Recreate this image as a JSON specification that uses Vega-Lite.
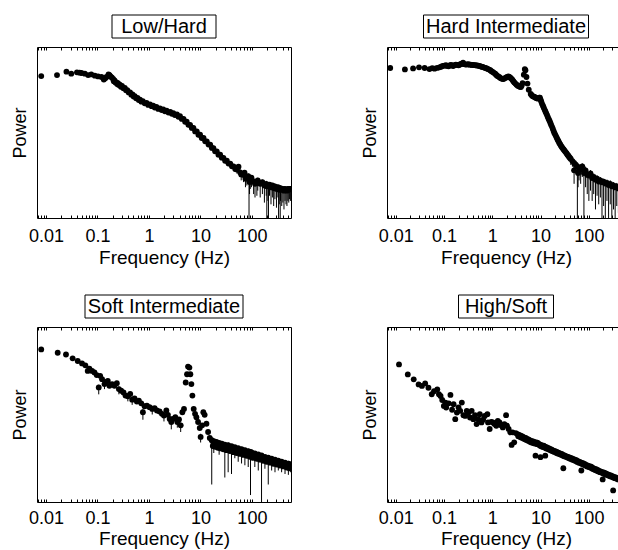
{
"$schema": "https://vega.github.io/schema/vega-lite/v6.json",
"padding": {"left": 10, "top": 14, "right": 0, "bottom": 0},
"config": {
  "font": "Liberation Sans",
  "view": {"stroke": "black", "strokeWidth": 1},
  "axis": {"labelColor": "black", "titleColor": "black", "tickColor": "black", "domain": false, "grid": false, "titleFontWeight": "normal"},
  "circle": {"size": 34, "color": "black", "opacity": 1}
},
"datasets": {
"p1": [
{"f":0.0081,"p":0.141},{"f":0.0164,"p":0.151},{"f":0.025,"p":0.19},{"f":0.031,"p":0.166},{"f":0.04,"p":0.182},{"f":0.045,"p":0.178},{"f":0.049,"p":0.174},{"f":0.057,"p":0.166},{"f":0.066,"p":0.151},{"f":0.076,"p":0.158},{"f":0.089,"p":0.145},{"f":0.103,"p":0.138},{"f":0.12,"p":0.133},{"f":0.133,"p":0.112},{"f":0.142,"p":0.122},{"f":0.15,"p":0.133},{"f":0.164,"p":0.158},{"f":0.172,"p":0.15},{"f":0.179,"p":0.138},{"f":0.19,"p":0.129},{"f":0.202,"p":0.116},{"f":0.215,"p":0.106},{"f":0.234,"p":0.0923},{"f":0.25,"p":0.0871},{"f":0.272,"p":0.0794},{"f":0.3,"p":0.0724},{"f":0.34,"p":0.0631},{"f":0.38,"p":0.055},{"f":0.43,"p":0.0473},{"f":0.48,"p":0.0412},{"f":0.53,"p":0.0363},{"f":0.6,"p":0.0324},{"f":0.67,"p":0.0288},{"f":0.76,"p":0.026},{"f":0.9,"p":0.0232},{"f":1.05,"p":0.0211},{"f":1.21,"p":0.0193},{"f":1.4,"p":0.0176},{"f":1.64,"p":0.016},{"f":1.9,"p":0.015},{"f":2.21,"p":0.0138},{"f":2.6,"p":0.0127},{"f":2.98,"p":0.0117},{"f":3.5,"p":0.0106},{"f":4.02,"p":0.00944},{"f":4.7,"p":0.00794},{"f":5.42,"p":0.00653},{"f":6.3,"p":0.00531},{"f":7.31,"p":0.00427},{"f":8.5,"p":0.00343},{"f":9.86,"p":0.00272},{"f":11.5,"p":0.00219},{"f":13.3,"p":0.00174},{"f":15.5,"p":0.0014},{"f":17.9,"p":0.00111},{"f":20.8,"p":8.91e-4},{"f":24.2,"p":7.08e-4},{"f":28,"p":5.75e-4},{"f":32.6,"p":4.73e-4},{"f":38,"p":3.89e-4},{"f":44,"p":3.24e-4},
{"f":0.208,"p":0.1},{"f":0.224,"p":0.092},{"f":0.242,"p":0.083},{"f":0.26,"p":0.077},{"f":0.286,"p":0.069},{"f":0.32,"p":0.062},{"f":0.36,"p":0.054},{"f":0.405,"p":0.047},{"f":0.455,"p":0.0405},{"f":0.505,"p":0.0355},{"f":0.565,"p":0.0315},{"f":0.635,"p":0.0282},{"f":0.715,"p":0.0252},{"f":0.83,"p":0.0225},{"f":0.97,"p":0.0202},{"f":1.13,"p":0.0186},{"f":1.3,"p":0.017},{"f":1.52,"p":0.0155},{"f":1.77,"p":0.0143},{"f":2.05,"p":0.0132},{"f":2.4,"p":0.0121},{"f":2.8,"p":0.0111},{"f":3.2,"p":0.0102},{"f":3.75,"p":0.0091},{"f":4.35,"p":0.0079},{"f":5.05,"p":0.0065},{"f":5.85,"p":0.0053},{"f":6.8,"p":0.0043},{"f":7.9,"p":0.0034},{"f":9.15,"p":0.0027},{"f":10.6,"p":0.00218},{"f":12.4,"p":0.00174},{"f":14.4,"p":0.0014},{"f":16.7,"p":0.00112},{"f":19.3,"p":8.9e-4},{"f":22.4,"p":7.1e-4},{"f":26,"p":5.8e-4},{"f":30.2,"p":4.7e-4},{"f":35.2,"p":3.9e-4},{"f":41,"p":3.25e-4},{"f":47.5,"p":2.7e-4},
{"f":51,"p":2.63e-4,"lo":2.0e-4,"hi":3.16e-4},{"f":55,"p":3.16e-4,"lo":2.24e-4,"hi":3.76e-4},{"f":59,"p":2.16e-4,"lo":1.58e-4,"hi":2.66e-4},{"f":62,"p":1.88e-4,"lo":1.26e-4,"hi":2.37e-4},{"f":69,"p":1.82e-4,"lo":1.12e-4,"hi":2.24e-4},{"f":72,"p":2.11e-4,"lo":1.41e-4,"hi":2.51e-4},{"f":75,"p":1.41e-4,"lo":7.94e-5,"hi":1.78e-4},{"f":80,"p":1.55e-4,"lo":8.91e-5,"hi":1.88e-4},{"f":85,"p":1.68e-4,"lo":1e-4,"hi":2.0e-4},{"f":88,"p":1.33e-4,"lo":1e-7,"hi":1.68e-4},{"f":90,"p":1.12e-4,"lo":5.01e-5,"hi":1.41e-4},{"f":93,"p":1.33e-4,"lo":7.08e-5,"hi":1.68e-4},{"f":98,"p":1.5e-4,"lo":7.94e-5,"hi":1.78e-4},{"f":108,"p":1.17e-4,"lo":5.01e-5,"hi":1.5e-4},{"f":115,"p":1e-4,"lo":3.98e-5,"hi":1.26e-4},{"f":125,"p":1.06e-4,"lo":4.47e-5,"hi":1.33e-4},{"f":130,"p":1.26e-4,"lo":6.31e-5,"hi":1.5e-4},{"f":145,"p":1e-4,"lo":3.98e-5,"hi":1.26e-4},{"f":160,"p":1.12e-4,"lo":5.01e-5,"hi":1.33e-4},{"f":175,"p":8.91e-5,"lo":2.82e-5,"hi":1.12e-4},{"f":190,"p":1e-4,"lo":4.47e-5,"hi":1.22e-4},{"f":195,"p":8.41e-5,"lo":1e-7,"hi":1.06e-4},{"f":205,"p":8.41e-5,"lo":3.16e-5,"hi":1.06e-4},{"f":210,"p":8.91e-5,"lo":1e-7,"hi":1.12e-4},{"f":220,"p":9.44e-5,"lo":4.47e-5,"hi":1.12e-4},{"f":235,"p":7.94e-5,"lo":2.51e-5,"hi":1e-4},{"f":250,"p":8.91e-5,"lo":3.98e-5,"hi":1.06e-4},{"f":265,"p":7.5e-5,"lo":2.24e-5,"hi":9.44e-5},{"f":280,"p":8.41e-5,"lo":3.55e-5,"hi":1e-4},{"f":300,"p":7.08e-5,"lo":2.0e-5,"hi":8.91e-5},{"f":320,"p":7.94e-5,"lo":3.98e-5,"hi":9.44e-5},{"f":330,"p":7.08e-5,"lo":1e-7,"hi":8.91e-5},{"f":340,"p":6.68e-5,"lo":2.51e-5,"hi":8.41e-5},{"f":355,"p":7.08e-5,"lo":1e-7,"hi":8.91e-5},{"f":360,"p":7.5e-5,"lo":3.16e-5,"hi":8.91e-5},{"f":380,"p":6.68e-5,"lo":2.24e-5,"hi":8.41e-5},{"f":400,"p":7.08e-5,"lo":2.82e-5,"hi":8.41e-5},{"f":420,"p":6.31e-5,"lo":1.78e-5,"hi":7.94e-5},{"f":440,"p":7.08e-5,"lo":3.16e-5,"hi":8.41e-5},{"f":460,"p":6.68e-5,"lo":2.51e-5,"hi":7.94e-5},{"f":480,"p":6.31e-5,"lo":2.24e-5,"hi":7.94e-5},{"f":500,"p":7.08e-5,"lo":3.16e-5,"hi":8.41e-5},{"f":520,"p":6.68e-5,"lo":2.82e-5,"hi":7.94e-5},{"f":540,"p":7.08e-5,"lo":3.55e-5,"hi":8.41e-5},{"f":560,"p":7.08e-5,"lo":3.16e-5,"hi":8.41e-5}
],
"p2": [
{"f":0.0077,"p":0.243},{"f":0.0155,"p":0.221},{"f":0.0229,"p":0.237},{"f":0.0304,"p":0.254},{"f":0.0397,"p":0.243},{"f":0.05,"p":0.226},{"f":0.0635,"p":0.232},{"f":0.0804,"p":0.254},{"f":0.094,"p":0.279},{"f":0.11,"p":0.292},{"f":0.124,"p":0.272},{"f":0.139,"p":0.299},{"f":0.155,"p":0.279},{"f":0.176,"p":0.306},{"f":0.2,"p":0.292},{"f":0.222,"p":0.32},{"f":0.248,"p":0.347},{"f":0.281,"p":0.306},{"f":0.318,"p":0.313},{"f":0.356,"p":0.306},{"f":0.397,"p":0.299},{"f":0.45,"p":0.292},{"f":0.509,"p":0.285},{"f":0.569,"p":0.272},{"f":0.635,"p":0.26},{"f":0.72,"p":0.243},{"f":0.817,"p":0.226},{"f":0.91,"p":0.209},{"f":1.02,"p":0.186},{"f":1.15,"p":0.166},{"f":1.26,"p":0.145},{"f":1.39,"p":0.133},{"f":1.55,"p":0.119},{"f":1.7,"p":0.116},{"f":1.9,"p":0.127},{"f":2.15,"p":0.138},{"f":2.37,"p":0.127},{"f":2.6,"p":0.111},{"f":2.86,"p":0.0923},{"f":3.18,"p":0.0794},{"f":3.56,"p":0.0708},{"f":3.91,"p":0.0676},{"f":4.23,"p":0.0881},{"f":4.5,"p":0.155},{"f":4.71,"p":0.226},{"f":4.86,"p":0.209},{"f":5.1,"p":0.133},{"f":5.35,"p":0.0851},{"f":5.69,"p":0.0562},{"f":6.25,"p":0.0422},{"f":6.87,"p":0.0363},{"f":7.55,"p":0.0347},{"f":8.28,"p":0.0316},{"f":9.1,"p":0.0316},{"f":9.69,"p":0.0331},{"f":10.3,"p":0.0257},{"f":11.2,"p":0.0193},{"f":12.1,"p":0.0148},{"f":13.1,"p":0.0115},{"f":14.1,"p":0.00902},{"f":15.3,"p":0.007},{"f":16.5,"p":0.00537},{"f":17.9,"p":0.00407},{"f":19.3,"p":0.00305},{"f":20.9,"p":0.00245},{"f":22.6,"p":0.00195},{"f":24.4,"p":0.00157},{"f":26.4,"p":0.0013},{"f":28.6,"p":0.00111},{"f":30.9,"p":9.55e-4},{"f":33.4,"p":8.32e-4},{"f":36.1,"p":7.08e-4},{"f":39.1,"p":6.1e-4},
{"f":0.057,"p":0.24},{"f":0.072,"p":0.245},{"f":0.087,"p":0.265},{"f":0.102,"p":0.285},{"f":0.117,"p":0.28},{"f":0.131,"p":0.29},{"f":0.147,"p":0.29},{"f":0.165,"p":0.295},{"f":0.188,"p":0.3},{"f":0.21,"p":0.305},{"f":0.235,"p":0.32},{"f":0.265,"p":0.315},{"f":0.3,"p":0.31},{"f":0.337,"p":0.305},{"f":0.376,"p":0.3},{"f":0.42,"p":0.295},{"f":0.48,"p":0.29},{"f":0.54,"p":0.28},{"f":0.6,"p":0.265},{"f":0.68,"p":0.25},{"f":0.77,"p":0.235},{"f":0.86,"p":0.218},{"f":0.96,"p":0.197},{"f":1.08,"p":0.176},{"f":1.2,"p":0.155},{"f":1.32,"p":0.139},{"f":1.47,"p":0.125},{"f":1.62,"p":0.117},{"f":1.8,"p":0.121},{"f":2.02,"p":0.133},{"f":2.26,"p":0.133},{"f":2.48,"p":0.119},{"f":2.73,"p":0.1},{"f":3.02,"p":0.085},{"f":3.37,"p":0.074},{"f":3.73,"p":0.069},{"f":4.07,"p":0.075},{"f":6.55,"p":0.039},{"f":7.2,"p":0.0355},{"f":7.9,"p":0.033},{"f":8.7,"p":0.031},{"f":9.4,"p":0.033},{"f":10,"p":0.029},{"f":10.7,"p":0.022},{"f":11.6,"p":0.017},{"f":12.6,"p":0.013},{"f":13.6,"p":0.0102},{"f":14.7,"p":0.0079},{"f":15.9,"p":0.0061},{"f":17.2,"p":0.0047},{"f":18.6,"p":0.0035},{"f":20.1,"p":0.00275},{"f":21.7,"p":0.0022},{"f":23.5,"p":0.00175},{"f":25.4,"p":0.00143},{"f":27.5,"p":0.0012},{"f":29.7,"p":0.00103},{"f":32.1,"p":8.9e-4},{"f":34.7,"p":7.7e-4},{"f":37.6,"p":6.6e-4},{"f":40.7,"p":5.7e-4},
{"f":42.3,"p":5.31e-4,"lo":3.55e-4,"hi":6.31e-4},{"f":45.7,"p":4.62e-4,"lo":3.16e-4,"hi":5.62e-4},{"f":49.4,"p":4.07e-4,"lo":2.51e-4,"hi":5.01e-4},{"f":49.4,"p":2.48e-4,"lo":1e-4,"hi":3.16e-4},{"f":53.5,"p":3.63e-4,"lo":2.0e-4,"hi":4.47e-4},{"f":57.8,"p":3.24e-4,"lo":1e-7,"hi":3.98e-4},{"f":59.7,"p":2.07e-4,"lo":7.94e-5,"hi":2.66e-4},{"f":62.5,"p":2.88e-4,"lo":1.26e-4,"hi":3.55e-4},{"f":67.6,"p":2.6e-4,"lo":1e-4,"hi":3.16e-4},{"f":73,"p":3.24e-4,"lo":1.58e-4,"hi":3.98e-4},{"f":79,"p":2.07e-4,"lo":1e-7,"hi":2.66e-4},{"f":85.5,"p":2.48e-4,"lo":7.94e-5,"hi":3.16e-4},{"f":92.5,"p":1.84e-4,"lo":5.01e-5,"hi":2.37e-4},{"f":100,"p":1.74e-4,"lo":3.16e-5,"hi":2.24e-4},{"f":108,"p":2.0e-4,"lo":6.31e-5,"hi":2.51e-4},{"f":117,"p":1.48e-4,"lo":3.16e-5,"hi":1.88e-4},{"f":126,"p":1.58e-4,"lo":5.01e-5,"hi":2.0e-4},{"f":137,"p":1.32e-4,"lo":1.78e-5,"hi":1.68e-4},{"f":148,"p":1.41e-4,"lo":4.47e-5,"hi":1.78e-4},{"f":160,"p":1.17e-4,"lo":2.51e-5,"hi":1.5e-4},{"f":173,"p":1.26e-4,"lo":3.98e-5,"hi":1.58e-4},{"f":187,"p":1.11e-4,"lo":1e-7,"hi":1.41e-4},{"f":202,"p":1.15e-4,"lo":2.24e-5,"hi":1.41e-4},{"f":219,"p":1.02e-4,"lo":1e-7,"hi":1.26e-4},{"f":237,"p":1.06e-4,"lo":3.16e-5,"hi":1.33e-4},{"f":256,"p":9.23e-5,"lo":1e-7,"hi":1.19e-4},{"f":277,"p":9.89e-5,"lo":2.51e-5,"hi":1.26e-4},{"f":299,"p":8.41e-5,"lo":1e-7,"hi":1.06e-4},{"f":324,"p":9.02e-5,"lo":1.78e-5,"hi":1.12e-4},{"f":350,"p":7.85e-5,"lo":1e-7,"hi":1e-4},{"f":378,"p":8.41e-5,"lo":2.24e-5,"hi":1.06e-4},{"f":409,"p":7.33e-5,"lo":1.41e-5,"hi":9.44e-5},{"f":443,"p":7.85e-5,"lo":2.51e-5,"hi":1e-4},{"f":470,"p":7.5e-5,"lo":2.24e-5,"hi":9.44e-5},{"f":500,"p":7.67e-5,"lo":1.78e-5,"hi":1e-4}
],
"p3": [
{"f":0.0081,"p":0.229},{"f":0.0169,"p":0.184},{"f":0.0245,"p":0.164},{"f":0.033,"p":0.127},{"f":0.0414,"p":0.107},{"f":0.0502,"p":0.0912},{"f":0.0583,"p":0.0804},{"f":0.0648,"p":0.0556},{"f":0.0699,"p":0.0646},{"f":0.0787,"p":0.0556},{"f":0.0875,"p":0.0501},{"f":0.097,"p":0.0422},{"f":0.106,"p":0.0188,"lo":0.0119,"hi":0.0224},{"f":0.113,"p":0.0403},{"f":0.123,"p":0.0324},{"f":0.137,"p":0.0234,"lo":0.0168,"hi":0.0282},{"f":0.148,"p":0.0272},{"f":0.159,"p":0.0288},{"f":0.171,"p":0.0209},{"f":0.193,"p":0.0234},{"f":0.214,"p":0.0209},{"f":0.238,"p":0.0248},{"f":0.261,"p":0.0168,"lo":0.0119,"hi":0.02},{"f":0.289,"p":0.0151},{"f":0.321,"p":0.0135},{"f":0.351,"p":0.011},{"f":0.39,"p":0.0105,"lo":0.0075,"hi":0.0126},{"f":0.433,"p":0.0122},{"f":0.473,"p":0.00841,"lo":0.00596,"hi":0.01},{"f":0.526,"p":0.00912},{"f":0.583,"p":0.00741},{"f":0.638,"p":0.00785},{"f":0.71,"p":0.00661},{"f":0.764,"p":0.00367,"lo":0.00224,"hi":0.00447},{"f":0.824,"p":0.00543},{"f":0.914,"p":0.00569},{"f":1.03,"p":0.00513},{"f":1.16,"p":0.00457,"lo":0.00316,"hi":0.00562},{"f":1.29,"p":0.00479},{"f":1.43,"p":0.00412},{"f":1.61,"p":0.00385},{"f":1.79,"p":0.00331},{"f":1.96,"p":0.00295,"lo":0.002,"hi":0.00355},{"f":2.18,"p":0.00412},{"f":2.34,"p":0.00309},{"f":2.53,"p":0.00237},{"f":2.72,"p":0.00193,"lo":0.00119,"hi":0.00237},{"f":2.94,"p":0.00237},{"f":3.26,"p":0.00266},{"f":3.56,"p":0.00193,"lo":0.00133,"hi":0.00237},{"f":3.84,"p":0.00229},{"f":4.14,"p":0.00155,"lo":0.001,"hi":0.00188},{"f":4.46,"p":0.00367},{"f":4.8,"p":0.00457},{"f":5.18,"p":0.026},{"f":5.5,"p":0.0447},{"f":5.75,"p":0.0741},{"f":6.11,"p":0.0692},{"f":6.38,"p":0.0447},{"f":6.68,"p":0.0234},{"f":6.99,"p":0.011},{"f":7.41,"p":0.00457},{"f":7.87,"p":0.00331},{"f":8.36,"p":0.00266},{"f":9.01,"p":0.00193},{"f":9.71,"p":0.0013},{"f":10.1,"p":7.24e-4,"lo":5.01e-4,"hi":8.91e-4},{"f":10.8,"p":0.00155},{"f":11.4,"p":0.00367},{"f":12.1,"p":0.00309},{"f":13.1,"p":0.00172},{"f":14.1,"p":0.001},{"f":15.2,"p":6.76e-4},{"f":16.6,"p":5.82e-4,"lo":3.16e-5,"hi":7.08e-4},{"f":17.4,"p":3.98e-4},{"f":18.2,"p":5.43e-4,"lo":2.51e-4,"hi":6.31e-4},{"f":19.3,"p":3.76e-4},{"f":20.5,"p":5.19e-4},{"f":21.8,"p":3.55e-4},{"f":23.1,"p":4.9e-4,"lo":2.24e-4,"hi":5.62e-4},{"f":24.6,"p":3.39e-4},{"f":26.1,"p":4.68e-4},{"f":27.9,"p":3.2e-4},{"f":29.8,"p":4.37e-4,"lo":5.01e-5,"hi":5.01e-4},{"f":32,"p":3.02e-4},{"f":34.6,"p":4.22e-4,"lo":7.08e-5,"hi":5.01e-4},{"f":37.3,"p":2.85e-4},{"f":40.2,"p":3.94e-4,"lo":6.31e-5,"hi":4.47e-4},{"f":43.3,"p":2.66e-4},{"f":46.6,"p":3.67e-4,"lo":1.78e-4,"hi":4.22e-4},{"f":50.3,"p":2.51e-4},{"f":54.2,"p":3.47e-4,"lo":1.41e-4,"hi":3.98e-4},{"f":58.4,"p":2.37e-4},{"f":63,"p":3.24e-4,"lo":1.26e-4,"hi":3.76e-4},{"f":68,"p":2.21e-4},{"f":73.1,"p":3.02e-4,"lo":1.12e-4,"hi":3.55e-4},{"f":79,"p":2.09e-4},{"f":84.9,"p":2.85e-4,"lo":1e-4,"hi":3.35e-4},{"f":91.5,"p":1.95e-4},{"f":94,"p":2.72e-4,"lo":1.58e-5,"hi":3.16e-4},{"f":98.6,"p":2.6e-4},{"f":106,"p":1.82e-4},{"f":114,"p":2.43e-4,"lo":1e-4,"hi":2.82e-4},{"f":123,"p":1.72e-4},{"f":133,"p":2.29e-4,"lo":7.94e-5,"hi":2.66e-4},{"f":143,"p":1.62e-4},{"f":154,"p":2.14e-4,"lo":1e-7,"hi":2.51e-4},{"f":166,"p":1.51e-4},{"f":179,"p":1.95e-4,"lo":8.91e-5,"hi":2.24e-4},{"f":193,"p":1.41e-4},{"f":208,"p":1.84e-4,"lo":3.16e-5,"hi":2.11e-4},{"f":225,"p":1.33e-4},{"f":242,"p":1.72e-4,"lo":7.94e-5,"hi":2.0e-4},{"f":261,"p":1.24e-4},{"f":281,"p":1.62e-4,"lo":7.08e-5,"hi":1.88e-4},{"f":303,"p":1.17e-4},{"f":326,"p":1.51e-4,"lo":7.94e-5,"hi":1.78e-4},{"f":351,"p":1.1e-4},{"f":378,"p":1.41e-4,"lo":7.08e-5,"hi":1.68e-4},{"f":408,"p":1.04e-4},{"f":440,"p":1.33e-4,"lo":6.31e-5,"hi":1.58e-4},{"f":474,"p":9.66e-5},{"f":511,"p":1.24e-4,"lo":5.96e-5,"hi":1.5e-4},{"f":540,"p":9.12e-5},{"f":566,"p":1.19e-4,"lo":7.08e-5,"hi":1.41e-4},
{"f":18,"p":4.6e-4},{"f":22.4,"p":4.3e-4},{"f":27,"p":4.0e-4},{"f":33.2,"p":3.65e-4},{"f":41.7,"p":3.3e-4},{"f":52,"p":3.0e-4},{"f":65,"p":2.75e-4},{"f":81,"p":2.45e-4},{"f":102,"p":2.2e-4},{"f":128,"p":2.0e-4},{"f":160,"p":1.8e-4},{"f":200,"p":1.6e-4},{"f":250,"p":1.45e-4},{"f":315,"p":1.32e-4},{"f":395,"p":1.2e-4},{"f":490,"p":1.09e-4}
],
"p4": [
{"f":0.0117,"p":0.0851},{"f":0.0178,"p":0.0442},{"f":0.0236,"p":0.032},{"f":0.0298,"p":0.0229},{"f":0.0349,"p":0.0207},{"f":0.0407,"p":0.0245},{"f":0.0476,"p":0.0184},{"f":0.0557,"p":0.012},{"f":0.0621,"p":0.0146},{"f":0.0726,"p":0.0166},{"f":0.0785,"p":0.012},{"f":0.0849,"p":0.0107},{"f":0.0918,"p":0.00822},{"f":0.0993,"p":0.00556},{"f":0.107,"p":0.00692},{"f":0.111,"p":0.00501},{"f":0.125,"p":0.00661},{"f":0.136,"p":0.0115},{"f":0.147,"p":0.00432},{"f":0.158,"p":0.00624},{"f":0.171,"p":0.00232},{"f":0.185,"p":0.00359},{"f":0.2,"p":0.00501},{"f":0.217,"p":0.00403},{"f":0.234,"p":0.00692},{"f":0.253,"p":0.00302},{"f":0.274,"p":0.00288},{"f":0.296,"p":0.00403},{"f":0.32,"p":0.00359},{"f":0.346,"p":0.0026},{"f":0.374,"p":0.00403},{"f":0.405,"p":0.00232},{"f":0.438,"p":0.00302},{"f":0.473,"p":0.00168},{"f":0.511,"p":0.00232},{"f":0.552,"p":0.00324},{"f":0.597,"p":0.00188},{"f":0.646,"p":0.00224},{"f":0.698,"p":0.00288},{"f":0.791,"p":0.00324},{"f":0.816,"p":0.00188},{"f":0.883,"p":0.00122},{"f":0.955,"p":0.00195},{"f":1.03,"p":0.00188},{"f":1.11,"p":0.00168},{"f":1.21,"p":0.00151},{"f":1.3,"p":0.00209},{"f":1.41,"p":0.00188},{"f":1.52,"p":0.00157},{"f":1.65,"p":0.00135},{"f":1.78,"p":0.00168},{"f":1.93,"p":0.00302},{"f":2.02,"p":0.00151},{"f":2.18,"p":0.00122},{"f":2.36,"p":9.77e-4},{"f":2.51,"p":4.27e-4},{"f":2.63,"p":9.77e-4},{"f":2.84,"p":5.07e-4},{"f":3.07,"p":9.33e-4},{"f":3.33,"p":8.71e-4},{"f":3.6,"p":8.22e-4},{"f":3.89,"p":7.85e-4},{"f":4.21,"p":7.5e-4},{"f":4.55,"p":7.0e-4},{"f":4.92,"p":6.76e-4},{"f":5.31,"p":6.31e-4},{"f":5.74,"p":6.03e-4},{"f":6.21,"p":5.62e-4},{"f":6.71,"p":5.43e-4},{"f":7.26,"p":5.31e-4},{"f":7.85,"p":2.11e-4},{"f":8.22,"p":5.07e-4},{"f":8.75,"p":4.84e-4},{"f":9.31,"p":4.52e-4},{"f":9.93,"p":1.91e-4},{"f":9.93,"p":4.37e-4},{"f":10.7,"p":4.17e-4},{"f":11.6,"p":4.07e-4},{"f":12.5,"p":2.11e-4},{"f":12.5,"p":3.8e-4},{"f":13.6,"p":3.63e-4},{"f":14.7,"p":3.43e-4},{"f":15.8,"p":3.27e-4},{"f":17.1,"p":3.13e-4},{"f":18.5,"p":2.95e-4},{"f":20.1,"p":2.82e-4},{"f":21.7,"p":2.69e-4},{"f":23.4,"p":2.57e-4},{"f":25.3,"p":2.45e-4},{"f":27.4,"p":2.37e-4},{"f":29.6,"p":9.23e-5},{"f":29.6,"p":2.21e-4},{"f":32,"p":2.11e-4},{"f":34.6,"p":2.02e-4},{"f":37.4,"p":1.95e-4},{"f":40.5,"p":1.86e-4},{"f":43.7,"p":1.78e-4},{"f":47.3,"p":1.7e-4},{"f":51.1,"p":1.62e-4},{"f":55.2,"p":1.57e-4},{"f":59.7,"p":1.46e-4},{"f":64.6,"p":1.4e-4},{"f":69.8,"p":7.94e-5},{"f":69.8,"p":1.33e-4},{"f":75.5,"p":1.29e-4},{"f":81.7,"p":1.23e-4},{"f":88.3,"p":1.15e-4},{"f":95.5,"p":1.1e-4},{"f":103,"p":1.06e-4},{"f":112,"p":1.02e-4},{"f":121,"p":9.44e-5},{"f":130,"p":9.02e-5},{"f":141,"p":8.61e-5},{"f":152,"p":8.32e-5},{"f":165,"p":7.76e-5},{"f":178,"p":7.41e-5},{"f":193,"p":4.42e-5},{"f":193,"p":7.08e-5},{"f":208,"p":6.84e-5},{"f":225,"p":6.53e-5},{"f":243,"p":6.24e-5},{"f":263,"p":5.96e-5},{"f":285,"p":5.75e-5},{"f":308,"p":5.5e-5},{"f":318,"p":2.14e-5},{"f":333,"p":5.25e-5},{"f":360,"p":5.01e-5},{"f":389,"p":4.79e-5},{"f":421,"p":4.62e-5},{"f":455,"p":4.42e-5},{"f":492,"p":4.22e-5},
{"f":3.45,"p":7.6e-4},{"f":3.75,"p":7.2e-4},{"f":4.05,"p":6.9e-4},{"f":4.4,"p":6.5e-4},{"f":4.75,"p":6.2e-4},{"f":5.1,"p":5.9e-4},{"f":5.5,"p":5.6e-4},{"f":6.0,"p":5.3e-4},{"f":6.45,"p":5.05e-4},{"f":7.0,"p":4.85e-4},{"f":7.55,"p":4.7e-4},{"f":8.5,"p":4.5e-4},{"f":9.6,"p":4.1e-4},{"f":10.3,"p":3.9e-4},{"f":11.1,"p":3.75e-4},{"f":12,"p":3.6e-4},{"f":13.1,"p":3.4e-4},{"f":14.1,"p":3.25e-4},{"f":15.2,"p":3.1e-4},{"f":16.4,"p":2.95e-4},{"f":17.8,"p":2.82e-4},{"f":19.3,"p":2.7e-4},{"f":20.9,"p":2.55e-4},{"f":22.5,"p":2.45e-4},{"f":24.3,"p":2.35e-4},{"f":26.3,"p":2.25e-4},{"f":28.5,"p":2.12e-4},{"f":30.8,"p":2.03e-4},{"f":33.3,"p":1.95e-4},{"f":36,"p":1.86e-4},{"f":38.9,"p":1.77e-4},{"f":42.1,"p":1.7e-4},{"f":45.5,"p":1.62e-4},{"f":49.2,"p":1.55e-4},{"f":53.1,"p":1.48e-4},{"f":57.4,"p":1.4e-4},{"f":62.1,"p":1.33e-4},{"f":67.2,"p":1.27e-4},{"f":72.6,"p":1.21e-4},{"f":78.5,"p":1.16e-4},{"f":85,"p":1.1e-4},{"f":91.8,"p":1.04e-4},{"f":99,"p":1.0e-4},{"f":107,"p":9.6e-5},{"f":116,"p":9.0e-5},{"f":125,"p":8.6e-5},{"f":135,"p":8.2e-5},{"f":146,"p":7.8e-5},{"f":158,"p":7.4e-5},{"f":171,"p":7.1e-5},{"f":185,"p":6.8e-5},{"f":200,"p":6.5e-5},{"f":216,"p":6.25e-5},{"f":234,"p":5.95e-5},{"f":253,"p":5.7e-5},{"f":274,"p":5.45e-5},{"f":296,"p":5.25e-5},{"f":320,"p":5.0e-5},{"f":346,"p":4.8e-5},{"f":374,"p":4.6e-5},{"f":405,"p":4.42e-5},{"f":438,"p":4.25e-5},{"f":473,"p":4.05e-5},{"f":510,"p":3.9e-5}
]
},
"spacing": 26,
"vconcat": [
{"hconcat": [
  {"vconcat": [
    {"width": 104, "height": 23, "data": {"values": [{"t": "Low/Hard"}]}, "layer": [{"mark": {"type": "rect", "filled": false, "stroke": "black", "strokeWidth": 1}, "encoding": {}}, {"mark": {"type": "text", "fontSize": 20, "color": "black", "align": "center", "baseline": "middle"}, "encoding": {"text": {"field": "t"}}}]},
    {"width": 254, "height": 171, "data": {"name": "p1"},
     "layer": [
      {"transform": [{"filter": "isValid(datum.lo)"}], "mark": {"type": "rule", "color": "black", "strokeWidth": 1, "clip": true},
       "encoding": {"x": {"field": "f", "type": "quantitative", "scale": {"type": "log", "domain": [0.0067, 575], "nice": false}, "axis": {"orient": "top", "title": null, "labels": false, "tickSize": -3, "values": [0.007,0.008,0.009,0.01,0.02,0.03,0.04,0.05,0.06,0.07,0.08,0.09,0.1,0.2,0.3,0.4,0.5,0.6,0.7,0.8,0.9,1,2,3,4,5,6,7,8,9,10,20,30,40,50,60,70,80,90,100,200,300,400,500]}},
                    "y": {"field": "lo", "type": "quantitative", "scale": {"type": "log", "domain": [1e-5, 1], "nice": false}, "axis": {"title": "Power", "labels": false, "ticks": false, "titleFontSize": 18, "titlePadding": 8}},
                    "y2": {"field": "hi"}}},
      {"mark": {"type": "circle", "clip": true},
       "encoding": {"x": {"field": "f", "type": "quantitative", "scale": {"type": "log", "domain": [0.0067, 575], "nice": false}, "axis": {"title": "Frequency (Hz)", "values": [0.007,0.008,0.009,0.01,0.02,0.03,0.04,0.05,0.06,0.07,0.08,0.09,0.1,0.2,0.3,0.4,0.5,0.6,0.7,0.8,0.9,1,2,3,4,5,6,7,8,9,10,20,30,40,50,60,70,80,90,100,200,300,400,500], "format": "~g", "labelExpr": "indexof([0.01,0.1,1,10,100], datum.value) >= 0 ? datum.label : ''", "tickSize": -3, "labelFontSize": 18, "labelPadding": 12, "titleFontSize": 19, "titlePadding": 3, "labelFlush": false, "labelOverlap": false, "labelBound": false}},
                    "y": {"field": "p", "type": "quantitative", "scale": {"type": "log", "domain": [1e-5, 1], "nice": false}, "axis": {"title": "Power", "labels": false, "ticks": false, "titleFontSize": 18, "titlePadding": 8}}}}
     ],
     "resolve": {"axis": {"x": "independent"}}}
  ], "spacing": 9, "center": true, "bounds": "flush"},
  {"vconcat": [
    {"width": 165, "height": 23, "data": {"values": [{"t": "Hard Intermediate"}]}, "layer": [{"mark": {"type": "rect", "filled": false, "stroke": "black", "strokeWidth": 1}, "encoding": {}}, {"mark": {"type": "text", "fontSize": 20, "color": "black", "align": "center", "baseline": "middle"}, "encoding": {"text": {"field": "t"}}}]},
    {"width": 238, "height": 171, "data": {"name": "p2"},
     "layer": [
      {"transform": [{"filter": "isValid(datum.lo)"}], "mark": {"type": "rule", "color": "black", "strokeWidth": 1, "clip": true},
       "encoding": {"x": {"field": "f", "type": "quantitative", "scale": {"type": "log", "domain": [0.0066, 560], "nice": false}, "axis": {"orient": "top", "title": null, "labels": false, "tickSize": -3, "values": [0.007,0.008,0.009,0.01,0.02,0.03,0.04,0.05,0.06,0.07,0.08,0.09,0.1,0.2,0.3,0.4,0.5,0.6,0.7,0.8,0.9,1,2,3,4,5,6,7,8,9,10,20,30,40,50,60,70,80,90,100,200,300,400,500]}},
                    "y": {"field": "lo", "type": "quantitative", "scale": {"type": "log", "domain": [1e-5, 1], "nice": false}, "axis": {"title": "Power", "labels": false, "ticks": false, "titleFontSize": 18, "titlePadding": 8}},
                    "y2": {"field": "hi"}}},
      {"mark": {"type": "circle", "clip": true},
       "encoding": {"x": {"field": "f", "type": "quantitative", "scale": {"type": "log", "domain": [0.0066, 560], "nice": false}, "axis": {"title": "Frequency (Hz)", "values": [0.007,0.008,0.009,0.01,0.02,0.03,0.04,0.05,0.06,0.07,0.08,0.09,0.1,0.2,0.3,0.4,0.5,0.6,0.7,0.8,0.9,1,2,3,4,5,6,7,8,9,10,20,30,40,50,60,70,80,90,100,200,300,400,500], "format": "~g", "labelExpr": "indexof([0.01,0.1,1,10,100], datum.value) >= 0 ? datum.label : ''", "tickSize": -3, "labelFontSize": 18, "labelPadding": 12, "titleFontSize": 19, "titlePadding": 3, "labelFlush": false, "labelOverlap": false, "labelBound": false}},
                    "y": {"field": "p", "type": "quantitative", "scale": {"type": "log", "domain": [1e-5, 1], "nice": false}, "axis": {"title": "Power", "labels": false, "ticks": false, "titleFontSize": 18, "titlePadding": 8}}}}
     ],
     "resolve": {"axis": {"x": "independent"}}}
  ], "spacing": 9, "center": true, "bounds": "flush"}
], "spacing": 68},
{"hconcat": [
  {"vconcat": [
    {"width": 158, "height": 23, "data": {"values": [{"t": "Soft Intermediate"}]}, "layer": [{"mark": {"type": "rect", "filled": false, "stroke": "black", "strokeWidth": 1}, "encoding": {}}, {"mark": {"type": "text", "fontSize": 20, "color": "black", "align": "center", "baseline": "middle"}, "encoding": {"text": {"field": "t"}}}]},
    {"width": 254, "height": 175, "data": {"name": "p3"},
     "layer": [
      {"transform": [{"filter": "isValid(datum.lo)"}], "mark": {"type": "rule", "color": "black", "strokeWidth": 1, "clip": true},
       "encoding": {"x": {"field": "f", "type": "quantitative", "scale": {"type": "log", "domain": [0.0067, 575], "nice": false}, "axis": {"orient": "top", "title": null, "labels": false, "tickSize": -3, "values": [0.007,0.008,0.009,0.01,0.02,0.03,0.04,0.05,0.06,0.07,0.08,0.09,0.1,0.2,0.3,0.4,0.5,0.6,0.7,0.8,0.9,1,2,3,4,5,6,7,8,9,10,20,30,40,50,60,70,80,90,100,200,300,400,500]}},
                    "y": {"field": "lo", "type": "quantitative", "scale": {"type": "log", "domain": [1e-5, 1], "nice": false}, "axis": {"title": "Power", "labels": false, "ticks": false, "titleFontSize": 18, "titlePadding": 8}},
                    "y2": {"field": "hi"}}},
      {"mark": {"type": "circle", "clip": true},
       "encoding": {"x": {"field": "f", "type": "quantitative", "scale": {"type": "log", "domain": [0.0067, 575], "nice": false}, "axis": {"title": "Frequency (Hz)", "values": [0.007,0.008,0.009,0.01,0.02,0.03,0.04,0.05,0.06,0.07,0.08,0.09,0.1,0.2,0.3,0.4,0.5,0.6,0.7,0.8,0.9,1,2,3,4,5,6,7,8,9,10,20,30,40,50,60,70,80,90,100,200,300,400,500], "format": "~g", "labelExpr": "indexof([0.01,0.1,1,10,100], datum.value) >= 0 ? datum.label : ''", "tickSize": -3, "labelFontSize": 18, "labelPadding": 10, "titleFontSize": 19, "titlePadding": 2, "labelFlush": false, "labelOverlap": false, "labelBound": false}},
                    "y": {"field": "p", "type": "quantitative", "scale": {"type": "log", "domain": [1e-5, 1], "nice": false}, "axis": {"title": "Power", "labels": false, "ticks": false, "titleFontSize": 18, "titlePadding": 8}}}}
     ],
     "resolve": {"axis": {"x": "independent"}}}
  ], "spacing": 9, "center": true, "bounds": "flush"},
  {"vconcat": [
    {"width": 95, "height": 23, "data": {"values": [{"t": "High/Soft"}]}, "layer": [{"mark": {"type": "rect", "filled": false, "stroke": "black", "strokeWidth": 1}, "encoding": {}}, {"mark": {"type": "text", "fontSize": 20, "color": "black", "align": "center", "baseline": "middle"}, "encoding": {"text": {"field": "t"}}}]},
    {"width": 238, "height": 175, "data": {"name": "p4"},
     "layer": [
      {"transform": [{"filter": "isValid(datum.lo)"}], "mark": {"type": "rule", "color": "black", "strokeWidth": 1, "clip": true},
       "encoding": {"x": {"field": "f", "type": "quantitative", "scale": {"type": "log", "domain": [0.0066, 560], "nice": false}, "axis": {"orient": "top", "title": null, "labels": false, "tickSize": -3, "values": [0.007,0.008,0.009,0.01,0.02,0.03,0.04,0.05,0.06,0.07,0.08,0.09,0.1,0.2,0.3,0.4,0.5,0.6,0.7,0.8,0.9,1,2,3,4,5,6,7,8,9,10,20,30,40,50,60,70,80,90,100,200,300,400,500]}},
                    "y": {"field": "lo", "type": "quantitative", "scale": {"type": "log", "domain": [1e-5, 1], "nice": false}, "axis": {"title": "Power", "labels": false, "ticks": false, "titleFontSize": 18, "titlePadding": 8}},
                    "y2": {"field": "hi"}}},
      {"mark": {"type": "circle", "clip": true},
       "encoding": {"x": {"field": "f", "type": "quantitative", "scale": {"type": "log", "domain": [0.0066, 560], "nice": false}, "axis": {"title": "Frequency (Hz)", "values": [0.007,0.008,0.009,0.01,0.02,0.03,0.04,0.05,0.06,0.07,0.08,0.09,0.1,0.2,0.3,0.4,0.5,0.6,0.7,0.8,0.9,1,2,3,4,5,6,7,8,9,10,20,30,40,50,60,70,80,90,100,200,300,400,500], "format": "~g", "labelExpr": "indexof([0.01,0.1,1,10,100], datum.value) >= 0 ? datum.label : ''", "tickSize": -3, "labelFontSize": 18, "labelPadding": 10, "titleFontSize": 19, "titlePadding": 2, "labelFlush": false, "labelOverlap": false, "labelBound": false}},
                    "y": {"field": "p", "type": "quantitative", "scale": {"type": "log", "domain": [1e-5, 1], "nice": false}, "axis": {"title": "Power", "labels": false, "ticks": false, "titleFontSize": 18, "titlePadding": 8}}}}
     ],
     "resolve": {"axis": {"x": "independent"}}}
  ], "spacing": 9, "center": true, "bounds": "flush"}
], "spacing": 68}
]
}
